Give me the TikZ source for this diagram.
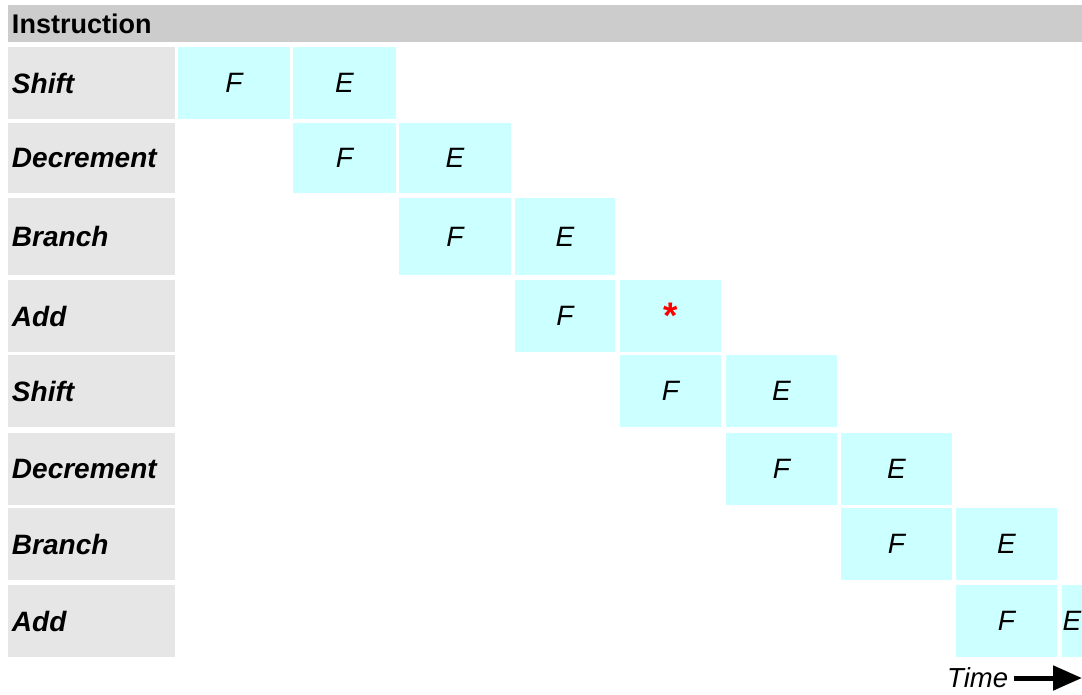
\documentclass[tikz,border=0pt]{standalone}
\usepackage{fontspec}
\setmainfont{Liberation Sans}
\usetikzlibrary{arrows.meta}
\definecolor{cellcyan}{HTML}{CCFFFF}
\definecolor{labelgray}{HTML}{E6E6E6}
\definecolor{headgray}{HTML}{CCCCCC}

\begin{document}
\begin{tikzpicture}[
    x=1pt, y=-1pt,
    box/.style={anchor=north west, inner sep=0pt, outer sep=0pt},
    head/.style={box, fill=headgray, text width=1066pt, inner xsep=4pt, minimum height=37pt, align=left, font=\fontsize{27}{30}\selectfont\bfseries},
    instr/.style={box, fill=labelgray, text width=159pt, inner xsep=4pt, align=left, font=\fontsize{28}{30}\selectfont\bfseries\itshape},
    stage/.style={box, fill=cellcyan, font=\fontsize{28}{30}\selectfont\itshape},
    arr/.style={-{Triangle[length=29pt, width=24pt]}, line width=5pt},
]
\useasboundingbox (0,0) rectangle (1082,694);

% Header
\node[head] (hdr) at (8,5) {Instruction};

% Instruction labels
\node[instr, minimum height=72pt] (i1) at (8,47) {Shift};
\node[instr, minimum height=70pt] (i2) at (8,123) {Decrement};
\node[instr, minimum height=77pt] (i3) at (8,198) {Branch};
\node[instr, minimum height=72pt] (i4) at (8,280) {Add};
\node[instr, minimum height=72pt] (i5) at (8,355) {Shift};
\node[instr, minimum height=72pt] (i6) at (8,433) {Decrement};
\node[instr, minimum height=72pt] (i7) at (8,508) {Branch};
\node[instr, minimum height=72pt] (i8) at (8,585) {Add};

% Fetch / execute stages
\node[stage, minimum width=112pt, minimum height=72pt] (f1) at (178,47) {F};
\node[stage, minimum width=103pt, minimum height=72pt] (e1) at (293,47) {E};
\node[stage, minimum width=103pt, minimum height=70pt] (f2) at (293,123) {F};
\node[stage, minimum width=112pt, minimum height=70pt] (e2) at (399,123) {E};
\node[stage, minimum width=112pt, minimum height=77pt] (f3) at (399,198) {F};
\node[stage, minimum width=100pt, minimum height=77pt] (e3) at (515,198) {E};
\node[stage, minimum width=100pt, minimum height=72pt] (f4) at (515,280) {F};
\node[stage, minimum width=101pt, minimum height=72pt, text=red, font=\fontsize{37}{40}\selectfont\bfseries] (s4) at (620,280) {*};
\node[stage, minimum width=101pt, minimum height=72pt] (f5) at (620,355) {F};
\node[stage, minimum width=111pt, minimum height=72pt] (e5) at (726,355) {E};
\node[stage, minimum width=111pt, minimum height=72pt] (f6) at (726,433) {F};
\node[stage, minimum width=111pt, minimum height=72pt] (e6) at (841,433) {E};
\node[stage, minimum width=111pt, minimum height=72pt] (f7) at (841,508) {F};
\node[stage, minimum width=101pt, minimum height=72pt] (e7) at (956,508) {E};
\node[stage, minimum width=101pt, minimum height=72pt] (f8) at (956,585) {F};
\node[stage, minimum width=20pt, minimum height=72pt] (e8) at (1062,585) {E};

% Time axis
\node[anchor=west, inner sep=0pt, font=\fontsize{27.5}{30}\selectfont\itshape] (time) at (947,678) {Time};
\coordinate (tend) at (1082,678);
\draw[arr, shorten <=6pt] (time) -- (tend);
\end{tikzpicture}
\end{document}
